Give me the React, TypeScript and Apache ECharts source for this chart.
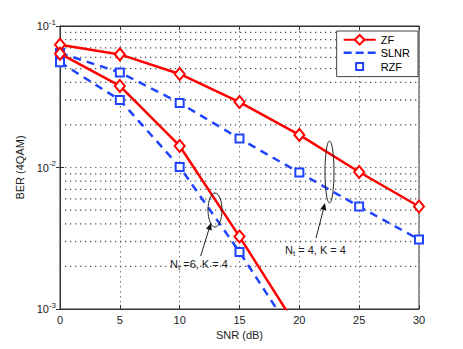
import React, { useEffect, useRef } from "react";
import * as echarts from "echarts";

const snr = [0, 5, 10, 15, 20, 25, 30];
const snr6 = [0, 5, 10, 15, 20];
const zf4 = [0.0738, 0.063, 0.0458, 0.029, 0.017, 0.0093, 0.0053];
const slnr4 = [0.0645, 0.047, 0.0286, 0.016, 0.0092, 0.0053, 0.0031];
const zf6 = [0.0637, 0.0377, 0.0142, 0.00325, 0.0007];
const slnr6 = [0.0554, 0.030, 0.0101, 0.00253, 0.00057];
const minorY = [0.002, 0.003, 0.004, 0.005, 0.006, 0.007, 0.008, 0.009, 0.02, 0.03, 0.04, 0.05, 0.06, 0.07, 0.08, 0.09];
const legendNames = ["ZF", "SLNR", "RZF"];

const RED = "#ff0000";
const BLUE = "#1f43ff";
const GRIDC = "#777777";
const HGRIDC = "#555555";
const FONT = "Liberation Sans, Arial, Helvetica, sans-serif";

const pairs = (xs: number[], ys: number[]) => xs.map((x, i) => [x, ys[i]]);

export default function App() {
  const ref = useRef<HTMLDivElement>(null);
  useEffect(() => {
    document.body.style.margin = "0";
    const chart = echarts.init(ref.current!, null, { renderer: "svg" });
    const zfStyle = {
      type: "line",
      name: "ZF",
      symbol: "diamond",
      symbolSize: [10, 12],
      lineStyle: { color: RED, width: 2.5 },
      itemStyle: { color: "#fff", borderColor: RED, borderWidth: 2 },
      z: 4,
    };
    const slnrStyle = {
      type: "line",
      name: "SLNR",
      symbol: "none",
      lineStyle: { color: BLUE, width: 2.5, type: [8, 6] },
      itemStyle: { color: BLUE },
      z: 3,
    };
    const rzfStyle = {
      type: "line",
      name: "RZF",
      symbol: "rect",
      symbolSize: 8,
      lineStyle: { width: 0, color: BLUE },
      itemStyle: { color: "#fff", borderColor: BLUE, borderWidth: 2 },
      z: 3,
    };
    const tickLabel = (v: number) => {
      const e = Math.round(Math.log10(v));
      return `{b|10}{s|${e}}`;
    };
    const minorSeries = minorY.map((v) => ({
      type: "line",
      name: "minor-" + v,
      silent: true,
      symbol: "none",
      z: 1,
      lineStyle: { color: HGRIDC, type: [1.3, 3.7], width: 1.3 },
      data: [
        [0, v],
        [30, v],
      ],
    }));
    chart.setOption({
      animation: false,
      textStyle: { fontFamily: FONT },
      grid: {
        left: 60,
        top: 26,
        right: 44,
        bottom: 40,
        show: true,
        borderColor: "#333",
        borderWidth: 1,
        backgroundColor: "#fff",
      },
      legend: {
        data: [
          { name: legendNames[0] },
          { name: legendNames[1], icon: "path://M0,0 M32,12 M0,5H8V7.5H0Z M12,5H20V7.5H12Z M24,5H32V7.5H24Z" },
          { name: legendNames[2], icon: "path://M0,0 M32,12 M12.5,2.5H19.5V9.5H12.5Z" },
        ],
        right: 45,
        top: 31,
        orient: "vertical",
        itemWidth: 32,
        itemHeight: 12,
        itemGap: 1,
        padding: [3, 8, 3, 6],
        backgroundColor: "#fff",
        borderColor: "#444",
        borderWidth: 1,
        textStyle: { fontSize: 11, color: "#000", fontFamily: FONT },
      },
      xAxis: [
        {
          type: "value",
          min: 0,
          max: 30,
          interval: 5,
          name: "SNR (dB)",
          nameLocation: "middle",
          nameGap: 20,
          nameTextStyle: { fontSize: 11, color: "#222" },
          axisLine: { show: true, lineStyle: { color: "#333" } },
          axisTick: { inside: true, length: 4, lineStyle: { color: "#333" } },
          axisLabel: { fontSize: 11, color: "#222", margin: 5 },
          splitLine: { show: true, lineStyle: { color: GRIDC, type: [1.5, 3.5] } },
        },
        {
          type: "value",
          position: "top",
          min: 0,
          max: 30,
          interval: 5,
          axisLine: { show: true, lineStyle: { color: "#333" } },
          axisTick: { inside: true, length: 4, lineStyle: { color: "#333" } },
          axisLabel: { show: false },
          splitLine: { show: false },
        },
      ],
      yAxis: [
        {
          type: "log",
          logBase: 10,
          min: 0.001,
          max: 0.1,
          name: "BER (4QAM)",
          nameLocation: "middle",
          nameGap: 25,
          nameTextStyle: { fontSize: 11, color: "#222" },
          axisLine: { show: true, lineStyle: { color: "#333" } },
          axisTick: { inside: true, length: 4, lineStyle: { color: "#333" } },
          axisLabel: {
            margin: 4,
            formatter: tickLabel,
            rich: {
              b: { fontSize: 11, color: "#222", fontFamily: FONT },
              s: { fontSize: 8, color: "#222", fontFamily: FONT, padding: [0, 0, 8, 0] },
            },
          },
          splitLine: { show: true, lineStyle: { color: GRIDC, type: [1.5, 3.5] } },
        },
        {
          type: "log",
          logBase: 10,
          min: 0.001,
          max: 0.1,
          position: "right",
          axisLine: { show: true, lineStyle: { color: "#333" } },
          axisTick: { inside: true, length: 4, lineStyle: { color: "#333" } },
          axisLabel: { show: false },
          splitLine: { show: false },
        },
      ],
      series: [
        ...minorSeries,
        { ...slnrStyle, data: pairs(snr, slnr4) },
        { ...slnrStyle, data: pairs(snr6, slnr6) },
        { ...zfStyle, data: pairs(snr, zf4) },
        { ...zfStyle, data: pairs(snr6, zf6) },
        { ...rzfStyle, data: pairs(snr, slnr4) },
        { ...rzfStyle, data: pairs(snr6, slnr6) },
      ],
      graphic: [
        {
          type: "ellipse",
          shape: { cx: 215, cy: 210, rx: 7, ry: 17 },
          style: { fill: "none", stroke: "#222", lineWidth: 1 },
          z: 10,
        },
        {
          type: "line",
          shape: { x1: 200.7, y1: 256, x2: 209, y2: 229 },
          style: { stroke: "#222", lineWidth: 1 },
          z: 10,
        },
        {
          type: "polygon",
          shape: { points: [[211, 223], [211.8, 230.6], [206, 228.8]] },
          style: { fill: "#111" },
          z: 10,
        },
        {
          type: "text",
          x: 170,
          y: 256,
          style: {
            text: "N{s|t} =6, K = 4",
            fontSize: 11,
            fontFamily: FONT,
            fill: "#222",
            rich: { s: { fontSize: 8, padding: [7, 0, 0, 0], fontFamily: FONT, fill: "#222" } },
          },
          z: 10,
        },
        {
          type: "ellipse",
          shape: { cx: 329.5, cy: 172, rx: 4.5, ry: 31 },
          style: { fill: "none", stroke: "#222", lineWidth: 1 },
          z: 10,
        },
        {
          type: "line",
          shape: { x1: 316, y1: 238, x2: 323.5, y2: 209 },
          style: { stroke: "#222", lineWidth: 1 },
          z: 10,
        },
        {
          type: "polygon",
          shape: { points: [[325, 203], [326.2, 210.5], [320.4, 209]] },
          style: { fill: "#111" },
          z: 10,
        },
        {
          type: "text",
          x: 285,
          y: 242,
          style: {
            text: "N{s|t} = 4, K = 4",
            fontSize: 11,
            fontFamily: FONT,
            fill: "#222",
            rich: { s: { fontSize: 8, padding: [7, 0, 0, 0], fontFamily: FONT, fill: "#222" } },
          },
          z: 10,
        },
      ],
    });
    return () => chart.dispose();
  }, []);
  return (
    <div
      ref={ref}
      style={{ position: "fixed", left: 0, top: 0, width: 463, height: 349, background: "#fff" }}
    />
  );
}
